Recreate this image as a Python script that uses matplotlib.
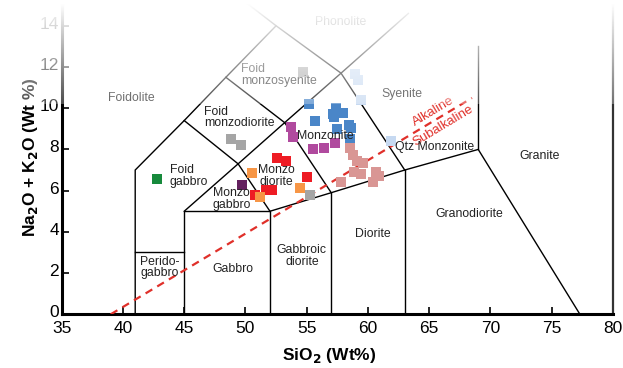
import numpy as np
import matplotlib
matplotlib.use("Agg")
import matplotlib.pyplot as plt
import matplotlib.transforms as mtransforms

plt.rcParams['font.family'] = ['Liberation Sans', 'DejaVu Sans']

# ---- sample compositions (SiO2, Na2O+K2O) ----
green_si = [42.8]
green_alk = [6.55]
darkpurple_si = [49.75]
darkpurple_alk = [6.25]
gray_si = [48.8, 49.6, 55.25, 54.7]
gray_alk = [8.5, 8.2, 5.8, 11.75]
red_si = [52.6, 53.3, 55.05, 51.7, 52.2, 50.8]
red_alk = [7.57, 7.44, 6.66, 6.05, 6.03, 5.8]
orange_si = [50.55, 51.2, 54.45]
orange_alk = [6.84, 5.7, 6.14]
magenta_si = [53.7, 53.85, 55.55, 56.4, 57.3]
magenta_alk = [9.1, 8.6, 8.0, 8.05, 8.3]
blue_si = [55.2, 55.7, 57.4, 57.95, 57.15, 57.25, 57.45, 58.45, 58.65, 58.5]
blue_alk = [10.22, 9.4, 10.02, 9.78, 9.7, 9.55, 8.98, 9.17, 9.06, 8.5]
lightblue_si = [58.9, 59.2, 59.45, 61.9]
lightblue_alk = [11.64, 11.36, 10.4, 8.4]
pink_si = [58.5, 58.8, 59.1, 59.6, 58.85, 59.4, 60.65, 60.9, 60.4, 57.8]
pink_alk = [8.05, 7.72, 7.44, 7.32, 6.9, 6.79, 6.9, 6.71, 6.42, 6.4]

# ---- field boundaries (Middlemost plutonic TAS) ----
boundaries = [
    [(41, 0), (41, 7), (45, 9.4), (48.4, 11.5), (52.5, 14), (50.1, 15.1)],
    [(41, 3), (45, 3)],
    [(45, 0), (45, 5), (52, 5), (52, 0)],
    [(52, 5), (57, 5.9), (63, 7), (69, 8), (77.3, 0)],
    [(57, 0), (57, 5.9)],
    [(63, 0), (63, 7)],
    [(69, 8), (69, 13)],
    [(45, 5), (49.4, 7.3), (52, 5)],
    [(45, 9.4), (49.4, 7.3), (53.2, 9.3), (57, 5.9)],
    [(48.4, 11.5), (53.2, 9.3), (57.8, 11.7), (63, 7)],
    [(52.5, 14), (57.8, 11.7), (63.3, 14.6)],
]

# Alkaline / subalkaline divide
divide_si = [39.0, 68.5]
divide_alk = [0.0, 10.5]

labels = [
    ("Foidolite", 40.7, 10.5, "center"),
    ("Foid\nmonzosyenite", 49.65, 11.6, "left"),
    ("Foid\nmonzodiorite", 46.6, 9.55, "left"),
    ("Foid\ngabbro", 43.8, 6.72, "left"),
    ("Monzo\ndiorite", 52.55, 6.72, "center"),
    ("Monzo\ngabbro", 48.85, 5.6, "center"),
    ("Monzonite", 56.5, 8.66, "center"),
    ("Syenite", 62.8, 10.7, "center"),
    ("Qtz Monzonite", 65.45, 8.1, "center"),
    ("Granite", 74.0, 7.68, "center"),
    ("Granodiorite", 68.3, 4.88, "center"),
    ("Diorite", 60.4, 3.9, "center"),
    ("Gabbroic\ndiorite", 54.6, 2.84, "center"),
    ("Gabbro", 49.0, 2.18, "center"),
    ("Perido-\ngabbro", 43.0, 2.28, "center"),
    ("Phonolite", 57.8, 14.17, "center"),
]

W, H = 623, 368
fig = plt.figure(figsize=(W / 100, H / 100), dpi=100)
ax = fig.add_axes([61.7 / W, (H - 314.3) / H, (613 - 61.7) / W, 314.3 / H])

for seg in boundaries:
    xs, ys = zip(*seg)
    ax.plot(xs, ys, color="black", lw=1.0, zorder=2, solid_joinstyle="miter")

ax.plot(divide_si, divide_alk, color="#e0302a", lw=1.6,
        linestyle=(0, (3.5, 2.6)), zorder=3)
ax.text(65.3, 9.85, "Alkaline", color="#e0302a", fontsize=9.5,
        rotation=31, ha="center", va="center", rotation_mode="anchor")
ax.text(66.1, 9.15, "Subalkaline", color="#e0302a", fontsize=9.5,
        rotation=31, ha="center", va="center", rotation_mode="anchor")

for txt, x, y, ha in labels:
    ax.text(x, y, txt, fontsize=8.8, color="#222222", ha=ha, va="center",
            linespacing=0.95, zorder=6)

groups = [
    (green_si, green_alk, "#178a3c"),
    (darkpurple_si, darkpurple_alk, "#63205e"),
    (gray_si, gray_alk, "#a5a5a5"),
    (magenta_si, magenta_alk, "#b04a9e"),
    (blue_si, blue_alk, "#4a86c8"),
    (lightblue_si, lightblue_alk, "#c6d9f1"),
    (pink_si, pink_alk, "#d99694"),
    (red_si, red_alk, "#ee1c24"),
    (orange_si, orange_alk, "#f79646"),
]
for xs, ys, c in groups:
    ax.scatter(xs, ys, marker="s", s=44, color=c, linewidths=0, zorder=5)

ax.set_xlim(35, 80)
ax.set_ylim(0, 15.25)
ax.set_xticks(np.arange(35, 81, 5))
ax.set_yticks(np.arange(0, 15, 2))
ax.tick_params(direction="in", length=5, width=1.2, labelsize=12.5,
               pad=2, colors="black")
ax.tick_params(axis="x", pad=4.5)
# lift the y tick labels a little so "0" clears the x tick labels
lift = mtransforms.ScaledTranslation(0, 3 / 100, fig.dpi_scale_trans)
for lab in ax.get_yticklabels():
    lab.set_transform(lab.get_transform() + lift)
for s in ("left", "bottom"):
    ax.spines[s].set_linewidth(2.2)
ax.spines["right"].set_linewidth(1.6)
ax.spines["right"].set_color("#333333")
ax.spines["top"].set_visible(False)

ax.set_xlabel("SiO$_\\mathbf{2}$ (Wt%)", fontsize=12.5, fontweight="bold")
ax.xaxis.set_label_coords((329 - 61.7) / (613 - 61.7), -0.1)
ax.set_ylabel("Na$_\\mathbf{2}$O + K$_\\mathbf{2}$O (Wt %)", fontsize=12.5,
              fontweight="bold")
ax.yaxis.set_label_coords(-(61.7 - 40) / (613 - 61.7), 0.5)

# white fade toward the top of the figure
rows = np.arange(H)
alpha = np.where(rows < 104, np.clip(0.3 + 0.7 * (104 - rows) / 100, 0, 1), 0.0)
fade = np.ones((H, 1, 4))
fade[:, 0, 3] = alpha
ov = fig.add_axes([0, 0, 1, 1], zorder=10)
ov.imshow(fade, aspect="auto", extent=(0, 1, 0, 1), interpolation="bilinear")
ov.set_axis_off()

fig.savefig("out.png", dpi=100)
